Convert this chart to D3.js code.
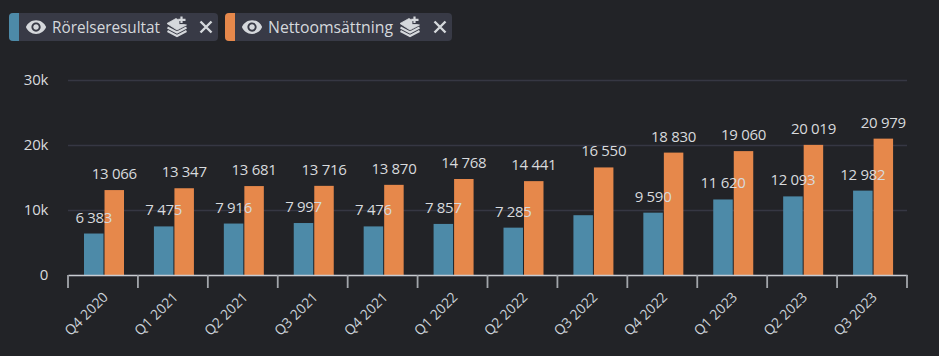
<!DOCTYPE html>
<html>

<head>
  <title>Rörelseresultat och nettoomsättning</title>
  <script src="https://cdn.jsdelivr.net/npm/d3@7"></script>
  <style>
    html, body { margin: 0; padding: 0; background: #222327; }
    svg { display: block; }
    text { font-family: "Open Sans", "Noto Sans", sans-serif; }
  </style>
</head>

<body>
  <svg width="939" height="356" id="mainsvg"></svg>
  <script>
    const quarters = ['Q4 2020', 'Q1 2021', 'Q2 2021', 'Q3 2021', 'Q4 2021', 'Q1 2022', 'Q2 2022', 'Q3 2022', 'Q4 2022', 'Q1 2023', 'Q2 2023', 'Q3 2023'];
    const rorelseresultat = [6383, 7475, 7916, 7997, 7476, 7857, 7285, 9200, 9590, 11620, 12093, 12982];
    const nettoomsattning = [13066, 13347, 13681, 13716, 13870, 14768, 14441, 16550, 18830, 19060, 20019, 20979];
    const seriesNames = ['Rörelseresultat', 'Nettoomsättning'];
    const seriesColors = ['#4d8aa8', '#e6884b'];
    const yTicks = [0, 10000, 20000, 30000];
    const yTickLabels = ['0', '10k', '20k', '30k'];
    // the picture shows no label on this one bar
    const unlabelled = ['Rörelseresultat|Q3 2022'];

    const svg = d3.select('#mainsvg');
    const margin = { top: 80, right: 32, bottom: 81, left: 68 };
    const innerWidth = +svg.attr('width') - margin.left - margin.right;
    const innerHeight = +svg.attr('height') - margin.top - margin.bottom;
    const textColor = '#d8dadd';

    const fmt = d3.formatLocale({ decimal: '.', thousands: ' ', grouping: [3], currency: ['', ''] }).format(',d');

    const xScale = d3.scaleBand().domain(quarters).range([0, innerWidth]);
    const xSeries = d3.scaleBand().domain(seriesNames).range([16, 56]).paddingInner(0.05);
    const yScale = d3.scaleLinear().domain([0, 30000]).range([innerHeight, 0]);

    const g = svg.append('g').attr('transform', `translate(${margin.left}, ${margin.top})`);

    // y axis + grid
    const yAxis = d3.axisLeft(yScale)
      .tickValues(yTicks)
      .tickFormat((d, i) => yTickLabels[i])
      .tickSize(-innerWidth)
      .tickPadding(20);
    const yAxisGroup = g.append('g').call(yAxis);
    yAxisGroup.select('.domain').remove();
    yAxisGroup.selectAll('line').attr('stroke', '#363743').attr('stroke-width', 1.5);
    yAxisGroup.selectAll('text').attr('fill', textColor).attr('font-size', 15).attr('letter-spacing', -0.3);

    // bars
    const series = [rorelseresultat, nettoomsattning];
    const groups = g.selectAll('.series').data(series).enter().append('g').attr('class', 'series');
    groups.each(function (values, s) {
      d3.select(this).selectAll('rect')
        .data(values)
        .enter()
        .append('rect')
        .attr('x', (d, i) => xScale(quarters[i]) + xSeries(seriesNames[s]))
        .attr('y', d => yScale(d))
        .attr('width', xSeries.bandwidth())
        .attr('height', d => innerHeight - yScale(d))
        .attr('fill', seriesColors[s]);
    });

    // x axis, ticks sit on the band edges
    const xAxis = d3.axisBottom(xScale).tickSize(13).tickSizeOuter(0);
    const xAxisGroup = g.append('g').attr('transform', `translate(0, ${innerHeight})`).call(xAxis);
    xAxisGroup.select('.domain').attr('stroke', '#c9ccd1').attr('stroke-width', 1.6);
    xAxisGroup.selectAll('.tick line')
      .attr('x1', -xScale.step() / 2)
      .attr('x2', -xScale.step() / 2)
      .attr('stroke', '#a3a6ab')
      .attr('stroke-width', 1.8);
    xAxisGroup.append('line')
      .attr('x1', innerWidth).attr('x2', innerWidth)
      .attr('y1', 0).attr('y2', 13)
      .attr('stroke', '#a3a6ab').attr('stroke-width', 1.8);
    xAxisGroup.selectAll('.tick text')
      .attr('fill', '#cbd2d9')
      .attr('font-size', 14)
      .attr('text-anchor', 'end')
      .attr('dy', 0)
      .attr('y', 0)
      .attr('transform', 'translate(6, 23) rotate(-45)');

    // value labels go last so they lie over the bars
    groups.each(function (values, s) {
      const name = seriesNames[s];
      d3.select(g.node()).append('g').selectAll('text')
        .data(values.map((v, i) => ({ v, q: quarters[i] })).filter(d => !unlabelled.includes(`${name}|${d.q}`)))
        .enter()
        .append('text')
        .attr('x', d => xScale(d.q) + xSeries(name) + xSeries.bandwidth() / 2)
        .attr('y', d => yScale(d.v) - 11)
        .attr('text-anchor', 'middle')
        .attr('font-size', 15)
        .attr('letter-spacing', -0.3)
        .attr('fill', textColor)
        .text(d => fmt(d.v));
    });

    // legend chips
    const eyePath = 'M12 4.5C7 4.5 2.73 7.61 1 12c1.73 4.39 6 7.5 11 7.5s9.27-3.11 11-7.5c-1.73-4.39-6-7.5-11-7.5zM12 17c-2.76 0-5-2.24-5-5s2.24-5 5-5 5 2.24 5 5-2.24 5-5 5zm0-8c-1.66 0-3 1.34-3 3s1.34 3 3 3 3-1.34 3-3-1.34-3-3-3z';
    const chipX = [9, 225];
    const chipW = [209, 227];
    const chipTextW = [108, 125];
    const iconColor = '#d5d8dc';
    seriesNames.forEach((name, i) => {
      const chip = svg.append('g').attr('transform', `translate(${chipX[i]}, 13)`);
      chip.append('rect').attr('width', chipW[i]).attr('height', 28).attr('rx', 4).attr('fill', '#383a46');
      chip.append('path')
        .attr('d', 'M4 0H10V28H4A4 4 0 0 1 0 24V4A4 4 0 0 1 4 0Z')
        .attr('fill', seriesColors[i]);
      chip.append('path').attr('d', eyePath).attr('fill', iconColor)
        .attr('transform', 'translate(16, 3) scale(0.92)');
      chip.append('text').attr('x', 43).attr('y', 19.5)
        .attr('font-size', 16).attr('fill', iconColor)
        .attr('textLength', chipTextW[i]).attr('lengthAdjust', 'spacingAndGlyphs')
        .text(name);
      // stacked layers icon with a plus
      const layers = chip.append('g')
        .attr('transform', `translate(${43 + chipTextW[i] + 7}, 0)`)
        .attr('fill', 'none').attr('stroke', iconColor).attr('stroke-width', 2);
      layers.append('path').attr('d', 'M0 10.5L9 5.5L12 7.2V11.5H17L19.5 12L10 17Z').attr('fill', iconColor).attr('stroke-width', 0.8);
      layers.append('path').attr('d', 'M0.5 14.5L10 19.5L19.5 14.5');
      layers.append('path').attr('d', 'M0.5 18L10 23L19.5 18');
      layers.append('path').attr('d', 'M14.5 3.5V10M11.3 6.8H18.5').attr('stroke-width', 2.2);
      const xAt = chipW[i] - 12;
      chip.append('path')
        .attr('d', `M${xAt - 5.5} 8.5L${xAt + 5.5} 19.5M${xAt + 5.5} 8.5L${xAt - 5.5} 19.5`)
        .attr('stroke', iconColor).attr('stroke-width', 2.4).attr('fill', 'none');
    });
  </script>
</body>

</html>
